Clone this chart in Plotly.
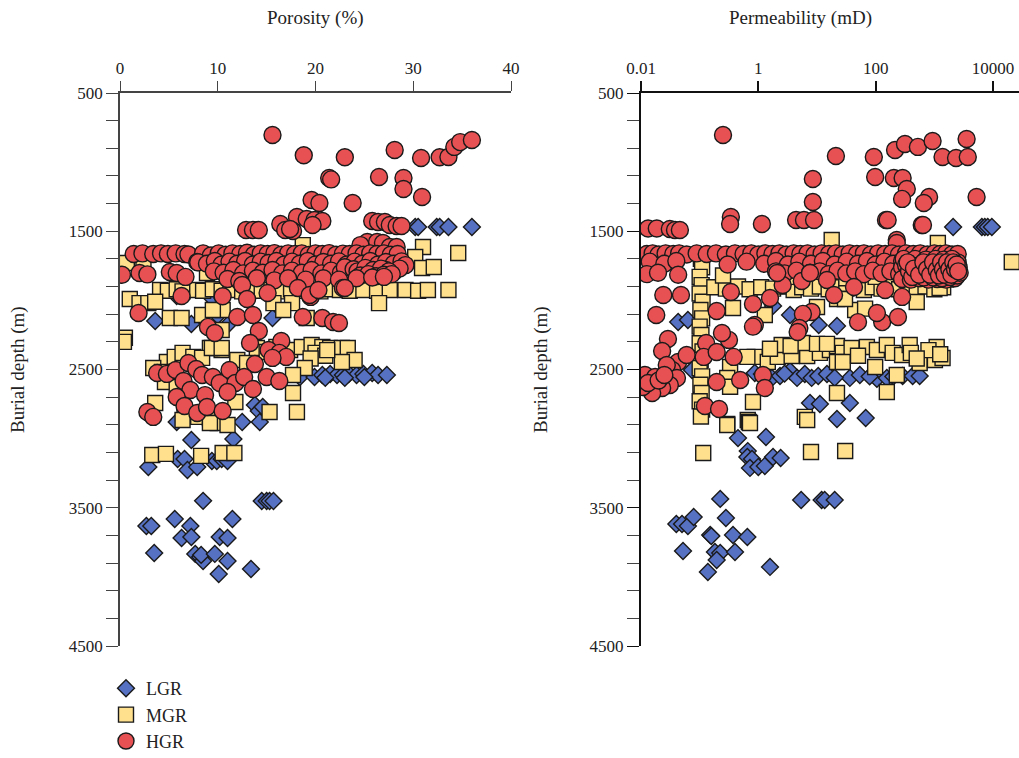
import plotly.graph_objects as go

# ---------------- data: (porosity %, burial depth m) ----------------
lgr_porosity = [
    (30.2, 1469), (30.5, 1469), (32.4, 1469), (32.7, 1469), (33.6, 1469), (36.0, 1469),
    (3.6, 2149), (7.3, 2171), (11.0, 2178), (10.0, 2110), (15.6, 2128), (9.5, 1990), (5.8, 1968),
    (18.4, 2554), (19.9, 2554), (20.7, 2540), (21.5, 2533), (22.2, 2540), (22.8, 2540), (23.4, 2533),
    (24.2, 2540), (24.9, 2533), (25.8, 2525), (26.4, 2540), (27.3, 2540), (21.0, 2560), (23.0, 2560),
    (25.0, 2555), (13.8, 2757), (14.2, 2800), (14.6, 2771), (14.3, 2880), (12.5, 2880), (5.8, 2880),
    (7.3, 3010), (11.6, 3003), (2.9, 3205), (5.9, 3147), (6.6, 3147), (6.9, 3227), (7.9, 3205),
    (9.4, 3162), (9.9, 3162), (10.4, 3147), (11.0, 3162), (8.5, 3450), (14.5, 3451), (15.0, 3451),
    (15.3, 3451), (15.7, 3451), (2.7, 3632), (3.2, 3632), (5.6, 3581), (7.2, 3632), (11.5, 3581),
    (6.3, 3719), (7.3, 3712), (10.2, 3712), (11.0, 3719), (3.5, 3827), (7.7, 3834), (8.2, 3856),
    (8.5, 3885), (8.3, 3841), (9.7, 3834), (11.0, 3885), (10.1, 3979), (13.4, 3943),
]

mgr_porosity = [
    (18.7, 1600), (31.0, 1614), (34.6, 1657), (30.2, 1686), (30.9, 1766), (32.1, 1759),
    (0.7, 1730), (2.4, 1730), (8.9, 1802), (12.0, 1700), (16.0, 1750), (20.0, 1690), (24.0, 1760),
    (26.0, 1700), (14.0, 1800), (22.0, 1820), (17.0, 1860), (19.0, 1870), (23.0, 1880),
    (4.1, 1925), (4.9, 1930), (5.8, 1920), (6.4, 1935), (7.9, 1925), (8.5, 1930), (9.5, 1920),
    (10.4, 1930), (11.3, 1925), (12.5, 1935), (13.5, 1920), (14.5, 1930), (15.5, 1925), (16.5, 1935),
    (17.5, 1920), (18.5, 1930), (19.5, 1925), (20.5, 1935), (21.5, 1920), (22.5, 1925), (23.5, 1930),
    (24.9, 1925), (26.3, 1930), (27.6, 1925), (29.2, 1925), (30.5, 1930), (31.5, 1925), (33.6, 1925),
    (1.0, 1990), (2.0, 2020), (2.9, 2020), (3.6, 2010), (5.1, 2128), (6.3, 2128), (8.4, 2106),
    (10.5, 2070), (9.5, 2070), (15.7, 2020), (17.6, 2020), (16.7, 2070), (19.1, 2128), (26.5, 2020),
    (0.5, 2270), (0.4, 2300), (10.4, 2214), (10.4, 2359), (9.2, 2344),
    (4.8, 2446), (5.6, 2409), (6.4, 2380), (7.5, 2409), (8.4, 2416), (9.4, 2344), (10.4, 2344),
    (12.0, 2431), (13.0, 2453), (14.0, 2344), (15.0, 2373), (16.0, 2337), (17.4, 2359), (18.6, 2337),
    (19.6, 2323), (20.7, 2337), (21.5, 2344), (22.7, 2344), (23.3, 2344), (24.0, 2431), (22.7, 2446),
    (20.0, 2380), (21.0, 2400), (19.5, 2420), (21.2, 2360), (18.9, 2489), (17.7, 2540),
    (3.4, 2489), (4.3, 2518), (4.6, 2590), (5.8, 2627), (3.6, 2742), (6.6, 2815), (8.0, 2843),
    (9.2, 2851), (10.0, 2887), (11.0, 2901), (11.8, 2735), (17.7, 2670), (15.3, 2807), (18.1, 2807),
    (6.4, 2865), (9.2, 2887), (3.3, 3118), (4.7, 3110), (8.3, 3125), (10.5, 3104), (11.7, 3104),
]

hgr_porosity = [
    (15.6, 804), (18.8, 950), (23.0, 965), (28.1, 912), (30.8, 970), (32.7, 965), (33.6, 963),
    (34.2, 890), (34.8, 855), (36.0, 840), (21.4, 1115), (21.6, 1125), (26.5, 1108), (29.0, 1115),
    (29.0, 1194), (30.9, 1252), (23.8, 1296), (19.6, 1274), (20.4, 1296),
    (18.1, 1397), (19.1, 1411), (19.9, 1419), (20.7, 1426), (19.7, 1455), (16.4, 1448), (16.9, 1491),
    (17.7, 1498), (17.4, 1484), (12.9, 1491), (13.6, 1491), (14.2, 1491),
    (25.8, 1426), (26.4, 1433), (27.1, 1433), (27.6, 1455), (28.3, 1462), (28.8, 1462),
    (25.3, 1578), (26.3, 1578), (26.9, 1585), (27.6, 1614), (28.3, 1614), (24.6, 1600),
    (1.4, 1665), (2.3, 1660), (3.4, 1665), (4.2, 1660), (4.9, 1665), (5.7, 1660), (6.6, 1665),
    (7.0, 1668), (8.5, 1660), (9.3, 1675), (10.1, 1660), (10.8, 1670), (11.5, 1660), (12.3, 1665),
    (13.0, 1655), (13.7, 1670), (14.4, 1660), (15.1, 1665), (15.8, 1658), (16.5, 1670), (17.2, 1660),
    (17.9, 1665), (18.6, 1660), (19.3, 1672), (20.0, 1660), (20.7, 1665), (21.4, 1658), (22.1, 1670),
    (22.8, 1662), (23.5, 1665), (24.2, 1660), (24.9, 1670), (25.6, 1660), (26.3, 1665), (27.0, 1660),
    (27.7, 1670), (28.4, 1665),
    (7.9, 1722), (8.0, 1725), (8.9, 1735), (9.7, 1715), (10.4, 1740), (11.2, 1720), (12.0, 1735),
    (12.8, 1715), (13.6, 1740), (14.4, 1720), (15.2, 1730), (16.0, 1715), (16.8, 1740), (17.6, 1720),
    (18.4, 1735), (19.2, 1715), (20.0, 1740), (20.8, 1722), (21.6, 1735), (22.4, 1718), (23.2, 1740),
    (24.0, 1720), (24.8, 1735), (25.6, 1715), (26.4, 1740), (27.2, 1722), (28.0, 1735), (28.8, 1718),
    (29.2, 1745),
    (9.6, 1790), (10.6, 1800), (11.6, 1780), (12.6, 1805), (13.6, 1785), (14.6, 1800), (15.6, 1780),
    (16.6, 1805), (17.6, 1785), (18.6, 1800), (19.6, 1780), (20.6, 1805), (21.6, 1785), (22.6, 1800),
    (23.6, 1780), (24.6, 1805), (25.6, 1785), (26.4, 1800), (27.2, 1780), (28.0, 1795), (28.6, 1770),
    (23.0, 1760), (23.9, 1775), (24.3, 1790), (25.1, 1765), (25.9, 1780), (26.7, 1770), (27.5, 1790),
    (24.6, 1820), (25.4, 1810), (26.2, 1825), (27.0, 1815), (27.8, 1810),
    (11.0, 1845), (12.2, 1860), (14.0, 1840), (15.8, 1855), (17.2, 1840), (19.0, 1850), (20.8, 1840),
    (22.4, 1850), (24.2, 1840), (25.8, 1835), (27.0, 1830),
    (0.2, 1815), (2.0, 1802), (2.8, 1812), (5.1, 1795), (5.8, 1802), (6.7, 1830),
    (6.3, 1968), (1.9, 2091), (10.5, 1970), (12.5, 1889), (12.0, 2120), (9.0, 2192), (9.7, 2236),
    (13.0, 1990), (13.6, 2106), (14.2, 2221), (13.3, 2308), (16.5, 2294), (15.1, 1947), (18.2, 1910),
    (19.5, 1975), (19.4, 1961), (20.3, 1925), (22.8, 1910), (18.7, 2120), (20.7, 2128), (21.8, 2156),
    (22.4, 2164), (23.0, 1910),
    (15.2, 2359), (16.3, 2380), (17.0, 2409), (15.6, 2416), (13.8, 2460), (15.0, 2554), (16.3, 2583),
    (3.8, 2525), (4.8, 2532), (5.7, 2504), (7.0, 2453), (7.8, 2496), (6.5, 2583), (7.2, 2648),
    (8.4, 2540), (9.5, 2554), (10.2, 2598), (11.2, 2504), (11.8, 2598), (12.7, 2554), (11.0, 2663),
    (13.6, 2641), (8.7, 2685), (5.8, 2699), (6.6, 2764), (7.9, 2815), (8.9, 2771), (10.5, 2800),
    (2.8, 2807), (3.4, 2843),
]

# ---------------- data: (permeability mD, burial depth m) ----------------
lgr_permeability = [
    (2089, 1469), (6457, 1469), (7244, 1469), (8128, 1469), (9550, 1469),
    (0.043, 2156), (0.063, 2142), (3.47, 2106), (10.7, 2178), (21.9, 2185), (1.78, 2040),
    (0.074, 2504), (0.87, 2525), (1.15, 2533), (1.7, 2561), (2.34, 2547), (3.47, 2511), (4.57, 2561),
    (6.2, 2533), (8.1, 2561), (10.5, 2547), (14.8, 2533), (36.3, 2561), (53.7, 2540), (105, 2568),
    (155, 2561), (288, 2547), (427, 2547), (562, 2547), (2.8, 2530), (20, 2560), (79, 2550), (200, 2550),
    (7.6, 2742), (11.2, 2750), (36.3, 2742), (21.9, 2858), (67.6, 2851),
    (0.45, 2996), (1.35, 2988),
    (0.66, 3090), (0.65, 3133), (0.78, 3147), (0.72, 3212), (1.0, 3205), (1.29, 3198), (1.78, 3133),
    (2.4, 3140),
    (0.224, 3436), (5.37, 3444), (12, 3444), (13.5, 3444), (20, 3444),
    (0.040, 3618), (0.050, 3618), (0.063, 3632), (0.079, 3567), (0.28, 3574), (0.151, 3697),
    (0.158, 3705), (0.37, 3697), (0.65, 3712), (0.052, 3813), (0.182, 3820), (0.224, 3827),
    (0.195, 3878), (0.40, 3820), (0.138, 3965), (1.58, 3928),
]

mgr_permeability = [
    (0.105, 1700), (0.11, 1760), (0.10, 1830), (0.108, 1890), (0.10, 1950), (0.112, 2010),
    (0.103, 2070), (0.11, 2130), (0.10, 2190), (0.107, 2250), (0.10, 2310), (0.112, 2370),
    (0.104, 2430), (0.10, 2490), (0.11, 2550), (0.103, 2610), (0.108, 2670), (0.10, 2730),
    (0.11, 2790), (0.105, 2840), (0.115, 3104),
    (0.178, 1905), (0.28, 1915), (0.45, 1900), (0.71, 1920), (1.12, 1905), (1.78, 1915), (2.8, 1900),
    (4.0, 1925), (5.6, 1905), (7.9, 1915), (11.2, 1900), (15.8, 1920), (22.4, 1905), (31.6, 1915),
    (44.7, 1900), (63, 1925), (89, 1905), (126, 1915), (178, 1900), (251, 1920), (355, 1905),
    (501, 1915), (708, 1900), (1000, 1920), (1413, 1905),
    (0.37, 2055), (1.29, 2106), (10, 2048), (44.7, 2070), (66, 2060), (501, 2012), (1230, 1910),
    (22, 1990), (30, 1990), (0.25, 1820), (3.2, 1830), (31.6, 1840), (100, 1830), (794, 1840),
    (1585, 1850), (17.8, 1563), (1148, 1585), (20893, 1722),
    (0.87, 2409), (1.45, 2446), (2.14, 2409), (3.7, 2402), (6.8, 2402), (11.2, 2380), (16.6, 2359),
    (21.9, 2330), (27.5, 2380), (38.9, 2344), (70.8, 2337), (105, 2359), (155, 2323), (195, 2380),
    (282, 2395), (380, 2323), (562, 2453), (1023, 2431), (1380, 2417), (1096, 2337), (2.5, 2323),
    (5.75, 2308), (10, 2315), (14.8, 2315), (21.9, 2446), (27.5, 2446), (98, 2482), (155, 2663),
    (21.9, 2670), (229, 2540), (1.58, 2350), (3.55, 2330), (50, 2400), (398, 2380), (794, 2360),
    (1259, 2390), (501, 2420), (0.65, 2409), (0.33, 2482), (0.295, 2561), (0.33, 2625),
    (0.81, 2735), (0.66, 2865), (6.2, 2843), (0.69, 2880), (0.295, 2894), (0.295, 2901),
    (0.72, 2887), (6.8, 2865), (7.9, 3097), (30.2, 3090),
]

hgr_permeability = [
    (0.25, 804), (21, 956), (93, 963), (214, 912), (316, 869), (525, 890), (933, 847), (3548, 833),
    (1380, 963), (2344, 970), (3715, 963), (8.5, 1122), (98, 1108), (204, 1115), (288, 1115),
    (339, 1194), (282, 1266), (813, 1252), (661, 1296), (5248, 1252), (8.5, 1288),
    (0.34, 1397), (0.33, 1448), (1.15, 1448), (4.4, 1419), (6.0, 1419), (8.9, 1419), (150, 1419),
    (160, 1419), (610, 1455), (640, 1455), (0.0132, 1480), (0.0186, 1480), (0.031, 1484),
    (0.038, 1491), (0.046, 1491), (229, 1563), (229, 1585),
    (0.0126, 1665), (0.0158, 1660), (0.020, 1668), (0.0263, 1660), (0.0355, 1665), (0.0447, 1660),
    (0.060, 1668), (0.089, 1660), (0.132, 1665), (0.19, 1660), (0.28, 1668), (0.40, 1660),
    (0.56, 1665), (0.76, 1660), (1.0, 1668), (1.32, 1660), (1.74, 1665), (2.29, 1660), (3.0, 1668),
    (4.0, 1660), (5.2, 1665), (6.9, 1660), (9.1, 1668), (12, 1660), (16, 1665), (21, 1660),
    (27.5, 1668), (36, 1660), (48, 1665), (63, 1660), (83, 1668), (110, 1660), (145, 1665),
    (190, 1660), (250, 1668), (330, 1660), (437, 1665), (575, 1660), (760, 1668), (1000, 1660),
    (1260, 1665), (1580, 1660), (2000, 1668), (2500, 1665),
    (0.0141, 1720), (0.025, 1735), (0.040, 1715), (0.30, 1740), (0.63, 1720), (1.26, 1735),
    (2.0, 1715), (3.2, 1740), (5.0, 1720), (7.9, 1735), (12.6, 1715), (20, 1740), (32, 1720),
    (50, 1735), (71, 1715), (100, 1740), (141, 1720), (200, 1735), (282, 1715), (400, 1740),
    (562, 1720), (794, 1735), (1000, 1715), (1260, 1740), (1580, 1720), (2000, 1735), (2500, 1725),
    (0.0126, 1810), (0.0195, 1800), (0.043, 1815), (2.0, 1790), (2.8, 1805), (4.47, 1785),
    (7.6, 1800), (11.2, 1790), (15.8, 1810), (22.4, 1785), (31.6, 1805), (44.7, 1790), (63, 1810),
    (89, 1785), (126, 1805), (178, 1790), (251, 1810), (355, 1785), (501, 1805), (708, 1790),
    (1000, 1810), (1413, 1785), (1995, 1805), (2512, 1795),
    (282, 1760), (398, 1765), (562, 1760), (794, 1765), (1122, 1760), (1585, 1765), (2239, 1760),
    (282, 1845), (398, 1850), (562, 1840), (794, 1850), (1122, 1845), (1585, 1850), (2239, 1840),
    (300, 1700), (330, 1745), (370, 1790), (420, 1830), (470, 1700), (520, 1750), (600, 1795),
    (660, 1835), (720, 1705), (800, 1750), (880, 1800), (960, 1835), (1050, 1700), (1150, 1755),
    (1250, 1795), (1350, 1840), (1450, 1705), (1550, 1750), (1700, 1795), (1850, 1830),
    (2000, 1700), (2150, 1750), (2300, 1790), (2450, 1820), (2600, 1760), (2700, 1800),
    (350, 1725), (450, 1770), (550, 1815), (650, 1725), (750, 1775), (850, 1815), (950, 1725),
    (1100, 1780), (1200, 1820), (1300, 1725), (1400, 1775), (1500, 1815), (1650, 1725),
    (1800, 1775), (1950, 1815), (2100, 1725), (2250, 1775), (2400, 1740), (2550, 1790),
    (0.024, 1961), (0.048, 1961), (0.0182, 2106), (0.195, 2077), (0.34, 1939), (0.81, 2026),
    (1.58, 1983), (0.87, 2178), (2.6, 1889), (8.1, 2084), (5.75, 2098), (14.8, 1853), (19.5, 1961),
    (42.7, 1903), (50, 2157), (129, 2157), (145, 1925), (282, 1975), (240, 2120), (105, 2091),
    (2.1, 1802), (5.5, 1860), (7.6, 1802), (5.0, 2200),
    (0.0288, 2279), (0.0229, 2366), (0.043, 2446), (0.060, 2395), (0.034, 2504), (0.0275, 2467),
    (0.041, 2561), (0.031, 2612), (0.0229, 2634), (0.0155, 2670), (0.0117, 2540), (0.0107, 2627),
    (0.0174, 2554), (0.0132, 2598), (0.020, 2580), (0.025, 2540),
    (0.129, 2308), (0.117, 2409), (0.195, 2373), (0.316, 2286), (0.38, 2409), (0.24, 2236),
    (0.195, 2590), (0.49, 2576), (1.2, 2540), (1.29, 2634), (0.123, 2764), (0.214, 2786),
    (4.68, 2229), (0.81, 2190),
]

# ---------------- styling ----------------
FONT = "Liberation Serif"
C_LGR = "#5670C2"
C_MGR = "#FFE08C"
C_HGR = "#E85153"
EDGE = dict(color="#1a1a1a", width=1.4)

groups = [
    ("LGR", lgr_porosity, lgr_permeability, "diamond", 13, C_LGR),
    ("MGR", mgr_porosity, mgr_permeability, "square", 15, C_MGR),
    ("HGR", hgr_porosity, hgr_permeability, "circle", 17, C_HGR),
]

fig = go.Figure()
for name, por, perm, sym, size, col in groups:
    fig.add_trace(go.Scatter(
        x=[p for p, d in por], y=[d for p, d in por], mode="markers", name=name,
        marker=dict(symbol=sym, size=size, color=col, line=EDGE),
        xaxis="x", yaxis="y", showlegend=True,
    ))
    fig.add_trace(go.Scatter(
        x=[k for k, d in perm], y=[d for k, d in perm], mode="markers", name=name,
        marker=dict(symbol=sym, size=size, color=col, line=EDGE),
        xaxis="x2", yaxis="y2", showlegend=False,
    ))

W, H = 1019, 758
def px(x):
    return x / W
def py(y):
    return 1 - y / H

depth_ticks = [500, 1500, 2500, 3500, 4500]
porosity_ticks = [0, 10, 20, 30, 40]
perm_ticks = [0.01, 1, 100, 10000]

tickfont = dict(family=FONT, size=17, color="#222")
yax = dict(
    range=[4500, 500], domain=[py(646), py(93)], tickvals=depth_ticks,
    ticks="outside", ticklen=12, tickwidth=1.4, tickcolor="#444",
    showline=True, linewidth=1.6, linecolor="#444", showgrid=False, zeroline=False,
    tickfont=tickfont, automargin=False,
    minor=dict(ticks="outside", ticklen=12, tickwidth=1.4, tickcolor="#444",
               tick0=500, dtick=200, showgrid=False),
)

fig.update_layout(
    width=W, height=H, margin=dict(l=0, r=0, t=0, b=0, autoexpand=False),
    paper_bgcolor="white", plot_bgcolor="white",
    xaxis=dict(
        range=[0, 40], domain=[px(120), px(511)], side="top", anchor="y",
        tickvals=porosity_ticks, ticks="outside", ticklen=10, tickwidth=1.4, tickcolor="#444",
        showline=True, linewidth=1.6, linecolor="#444", showgrid=False, zeroline=False,
        tickfont=tickfont, automargin=False,
    ),
    yaxis=dict(anchor="x", **yax),
    xaxis2=dict(
        type="log", range=[-2, 4.443], domain=[px(641), 1.0], side="top", anchor="y2",
        tickvals=perm_ticks, ticktext=["0.01", "1", "100", "10000"],
        ticks="outside", ticklen=10, tickwidth=1.6, tickcolor="#111",
        showline=True, linewidth=2.2, linecolor="#111", showgrid=False, zeroline=False,
        tickfont=tickfont, automargin=False,
    ),
    yaxis2=dict(anchor="x2", **{**yax, "linecolor": "#111", "linewidth": 2.2, "tickcolor": "#111"}),
    legend=dict(
        x=px(106), y=py(670), xanchor="left", yanchor="top", tracegroupgap=0,
        font=dict(family=FONT, size=18, color="#222"), bgcolor="rgba(0,0,0,0)",
        itemsizing="trace",
    ),
    showlegend=True,
)

annots = [
    dict(text="Porosity (%)", x=px(315), y=py(18)),
    dict(text="Permeability (mD)", x=px(800), y=py(18)),
    dict(text="Burial depth (m)", x=px(18), y=py(370), textangle=-90),
    dict(text="Burial depth (m)", x=px(541), y=py(370), textangle=-90),
]
for a in annots:
    fig.add_annotation(xref="paper", yref="paper", showarrow=False,
                       font=dict(family=FONT, size=19, color="#222"),
                       xanchor="center", yanchor="middle", **a)

fig.write_html("out.html")
